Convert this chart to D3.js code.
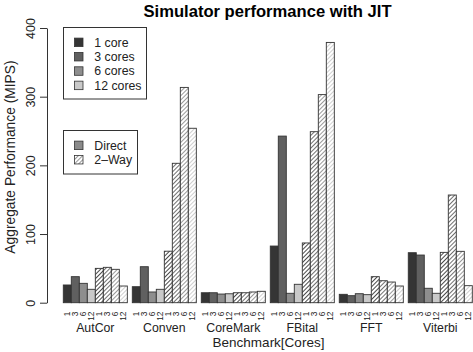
<!DOCTYPE html>
<html>
<head>
<meta charset="utf-8">
<script src="https://cdn.jsdelivr.net/npm/d3@7"></script>
<style>
  body { margin: 0; background: #fff; }
  svg { display: block; font-family: "Liberation Sans", Arial, sans-serif; }
</style>
</head>
<body>
<div class="container"></div>
<script>
// Data
const benchmarks = ["AutCor", "Conven", "CoreMark", "FBital", "FFT", "Viterbi"]
const cores = ["1", "3", "6", "12"]
const coreNames = ["1 core", "3 cores", "6 cores", "12 cores"]
const modes = ["Direct", "2\u2013Way"]
// values per benchmark, in core order 1, 3, 6, 12
const directMIPS = [
    [25.8, 37.9, 28.2, 19.5],
    [23.3, 52.4, 15.6, 19.5],
    [14.5, 14.5, 12.6, 13],
    [82.5, 242.6, 13.7, 26.8],
    [12.2, 10.2, 13.1, 11.7],
    [72.8, 69.4, 21, 13.7]
]
const twoWayMIPS = [
    [50, 51.5, 48.6, 24.3],
    [75, 203, 313.5, 254],
    [14.5, 14.5, 15.6, 16.6],
    [87, 249, 303, 379],
    [37.9, 32, 30.1, 24.3],
    [73.3, 156.8, 74.8, 24.8]
]
const yTicks = [0, 100, 200, 300, 400]

const width = 473
const height = 352
const coreColors = ["#353535", "#606060", "#8e8e8e", "#c9c9c9"]
const edge = "#333"

const svg = d3.select(".container")
    .append("svg")
    .attr("width", width)
    .attr("height", height)

// hatch patterns, one per core shade
const defs = svg.append("defs")
coreColors.concat(["#8a8a8a"]).forEach((c, i) => {
    const p = defs.append("pattern")
        .attr("id", "hatch" + i)
        .attr("patternUnits", "userSpaceOnUse")
        .attr("width", 3)
        .attr("height", 3)
        .attr("patternTransform", "rotate(45)")
    p.append("rect").attr("width", 3).attr("height", 3).attr("fill", "#fff")
    p.append("line")
        .attr("x1", 0.5).attr("x2", 0.5)
        .attr("y1", 0).attr("y2", 3)
        .attr("stroke", c)
        .attr("stroke-width", 0.9)
})

// flatten into bars
const bars = []
benchmarks.forEach((b, gi) => {
    cores.forEach((c, ci) => {
        bars.push({bench: b, slot: ci, core: ci, mode: 0, value: directMIPS[gi][ci]})
    })
    cores.forEach((c, ci) => {
        bars.push({bench: b, slot: 4 + ci, core: ci, mode: 1, value: twoWayMIPS[gi][ci]})
    })
})

const x0 = d3.scaleBand()
    .domain(benchmarks)
    .range([63.3, 472.3])
    .paddingInner(0.072)
    .paddingOuter(0)

const x1 = d3.scaleBand()
    .domain(d3.range(8))
    .range([0, x0.bandwidth()])

const y = d3.scaleLinear()
    .domain([0, 400])
    .range([302.7, 28])

// bars
svg.append("g")
    .selectAll("rect")
    .data(bars)
    .enter()
    .append("rect")
        .attr("x", d => x0(d.bench) + x1(d.slot))
        .attr("y", d => y(d.value))
        .attr("width", x1.bandwidth())
        .attr("height", d => y(0) - y(d.value))
        .attr("fill", d => d.mode === 0 ? coreColors[d.core] : `url(#hatch${d.core})`)
        .attr("stroke", edge)
        .attr("stroke-width", 0.9)

// y axis
const yAxis = svg.append("g")
    .attr("transform", "translate(47,0)")
    .call(d3.axisLeft(y).tickValues(yTicks).tickSize(7).tickSizeOuter(0))
yAxis.select(".domain").attr("stroke", edge)
yAxis.selectAll(".tick line").attr("stroke", edge)
yAxis.selectAll(".tick text")
    .attr("x", null).attr("dy", null)
    .attr("transform", "translate(-12,0) rotate(-90)")
    .attr("text-anchor", "middle")
    .attr("font-size", 12.5)
    .attr("fill", "#222")

// small core labels under each bar
svg.append("g")
    .selectAll("text")
    .data(bars)
    .enter()
    .append("text")
        .attr("transform", d => `translate(${x0(d.bench) + x1(d.slot) + x1.bandwidth() / 2},311.5) rotate(-90)`)
        .attr("text-anchor", "end")
        .attr("dy", "0.35em")
        .attr("font-size", 8.4)
        .attr("fill", "#222")
        .text(d => cores[d.core])

// benchmark names
svg.append("g")
    .selectAll("text")
    .data(benchmarks)
    .enter()
    .append("text")
        .attr("x", d => x0(d) + x0.bandwidth() / 2)
        .attr("y", 331.5)
        .attr("text-anchor", "middle")
        .attr("font-size", 12.3)
        .attr("fill", "#222")
        .text(d => d)

// titles
svg.append("text")
    .attr("x", 267.5)
    .attr("y", 17)
    .attr("text-anchor", "middle")
    .attr("font-size", 16.6)
    .attr("font-weight", "bold")
    .text("Simulator performance with JIT")

svg.append("text")
    .attr("x", 268.5)
    .attr("y", 346.5)
    .attr("text-anchor", "middle")
    .attr("font-size", 13.5)
    .attr("fill", "#222")
    .text("Benchmark[Cores]")

svg.append("text")
    .attr("transform", "translate(15,157) rotate(-90)")
    .attr("text-anchor", "middle")
    .attr("font-size", 13.8)
    .attr("fill", "#222")
    .text("Aggregate Performance (MIPS)")

// legends
const legend1 = svg.append("g").attr("id", "legend-cores")
legend1.append("rect")
    .attr("x", 63.5).attr("y", 27.5)
    .attr("width", 83).attr("height", 71.5)
    .attr("fill", "#fff").attr("stroke", edge)
coreNames.forEach((name, i) => {
    const cy = 42.3 + i * 14.35
    legend1.append("rect")
        .attr("x", 74.5).attr("y", cy - 4.2)
        .attr("width", 8.5).attr("height", 8.5)
        .attr("fill", coreColors[i]).attr("stroke", edge).attr("stroke-width", 0.8)
    legend1.append("text")
        .attr("x", 94.3).attr("y", cy)
        .attr("dy", "0.36em")
        .attr("font-size", 12.3)
        .attr("fill", "#222")
        .text(name)
})

const legend2 = svg.append("g").attr("id", "legend-modes")
legend2.append("rect")
    .attr("x", 63.5).attr("y", 130.5)
    .attr("width", 74).attr("height", 43.5)
    .attr("fill", "#fff").attr("stroke", edge)
modes.forEach((name, i) => {
    const cy = 145.3 + i * 14.35
    legend2.append("rect")
        .attr("x", 74.5).attr("y", cy - 4.2)
        .attr("width", 8.5).attr("height", 8.5)
        .attr("fill", i === 0 ? "#8a8a8a" : "url(#hatch4)")
        .attr("stroke", edge).attr("stroke-width", 0.8)
    legend2.append("text")
        .attr("x", 94.3).attr("y", cy)
        .attr("dy", "0.36em")
        .attr("font-size", 12.3)
        .attr("fill", "#222")
        .text(name)
})
</script>
</body>
</html>
